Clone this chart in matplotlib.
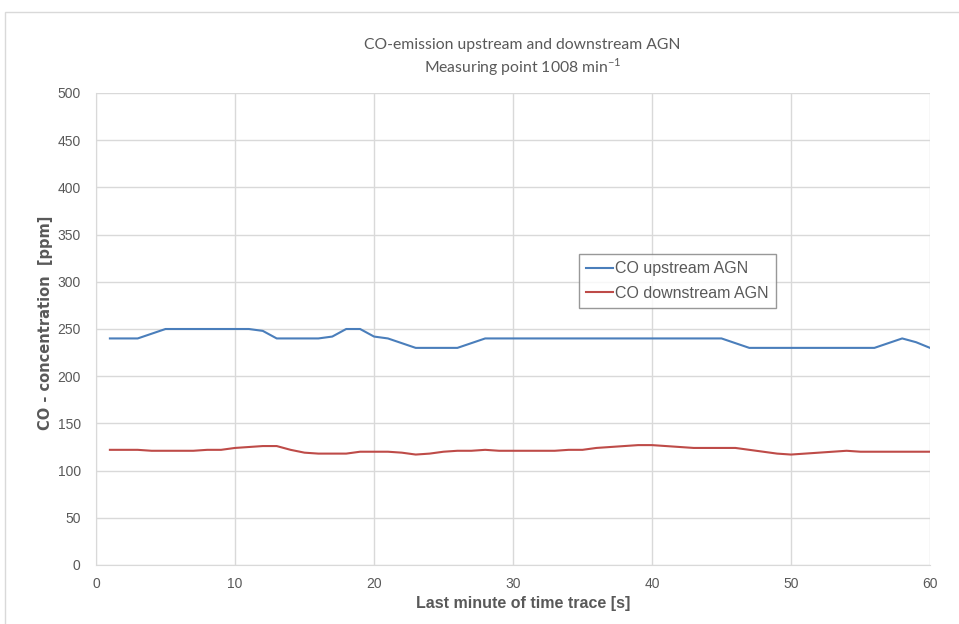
import matplotlib
matplotlib.use("Agg")
import matplotlib.pyplot as plt
from matplotlib.patches import Rectangle

# Time axis: last minute of the trace, one sample per second
seconds = list(range(1, 61))

co_upstream = [240, 240, 240, 245, 250, 250, 250, 250, 250, 250,
               250, 248, 240, 240, 240, 240, 242, 250, 250, 242,
               240, 235, 230, 230, 230, 230, 235, 240, 240, 240,
               240, 240, 240, 240, 240, 240, 240, 240, 240, 240,
               240, 240, 240, 240, 240, 235, 230, 230, 230, 230,
               230, 230, 230, 230, 230, 230, 235, 240, 236, 230]

co_downstream = [122, 122, 122, 121, 121, 121, 121, 122, 122, 124,
                 125, 126, 126, 122, 119, 118, 118, 118, 120, 120,
                 120, 119, 117, 118, 120, 121, 121, 122, 121, 121,
                 121, 121, 121, 122, 122, 124, 125, 126, 127, 127,
                 126, 125, 124, 124, 124, 124, 122, 120, 118, 117,
                 118, 119, 120, 121, 120, 120, 120, 120, 120, 120]

series_labels = ["CO upstream AGN", "CO downstream AGN"]
x_ticks = [0, 10, 20, 30, 40, 50, 60]
y_ticks = list(range(0, 501, 50))

sans = "Liberation Sans"
title_font = "Lato"
grey = "#595959"

fig = plt.figure(figsize=(9.59, 6.24), dpi=100)
fig.patch.set_facecolor("white")

# Chart frame
fig.patches.append(Rectangle((5 / 959, -0.01), 1.0, (624 - 12) / 624 + 0.01,
                             transform=fig.transFigure, fill=False,
                             edgecolor="#d9d9d9", linewidth=1.0))

ax = fig.add_axes([96 / 959, 59 / 624, 834 / 959, 472 / 624])
ax.plot(seconds, co_upstream, color="#4a7ebb", linewidth=1.5, label=series_labels[0])
ax.plot(seconds, co_downstream, color="#be4b48", linewidth=1.5, label=series_labels[1])

ax.set_xlim(0, 60)
ax.set_ylim(0, 500)
ax.set_xticks(x_ticks)
ax.set_yticks(y_ticks)
ax.grid(True, color="#d9d9d9", linewidth=1.0)
ax.set_axisbelow(True)
for side in ["top", "right"]:
    ax.spines[side].set_visible(False)
for side in ["left", "bottom"]:
    ax.spines[side].set_color("#d9d9d9")
ax.tick_params(axis="y", length=0, colors=grey, pad=11)
ax.tick_params(axis="x", length=0, colors=grey, pad=9)
for lbl in ax.get_yticklabels() + ax.get_xticklabels():
    lbl.set_fontfamily(sans)
    lbl.set_fontsize(10)

ax.set_ylabel("CO - concentration  [ppm]", family="DejaVu Sans", fontsize=10.5,
              fontweight="bold", color=grey)
ax.yaxis.set_label_coords((53 - 96) / 834, (565 - 323) / 472)
ax.set_xlabel("Last minute of time trace [s]", family=sans, fontsize=11.5,
              fontweight="bold", color=grey)
ax.xaxis.set_label_coords((523 - 96) / 834, (565 - 596) / 472)

fig.text(0.545, 1 - 45 / 624, "CO-emission upstream and downstream AGN",
         ha="center", va="center", family=title_font, fontsize=11.3, color=grey)
fig.text(0.545, 1 - 67 / 624, r"Measuring point 1008 min$^{\mathregular{-1}}$",
         ha="center", va="center", family=title_font, fontsize=11.3, color=grey)

leg = ax.legend(loc="upper left", bbox_to_anchor=((579 - 96) / 834, (565 - 254) / 472),
                frameon=True, fancybox=False, edgecolor="#7f7f7f",
                prop={"family": sans, "size": 11.5},
                handlelength=1.7, handletextpad=0.1, borderpad=0.45, labelspacing=0.6,
                borderaxespad=0.0)
leg.get_frame().set_linewidth(1.0)
for t in leg.get_texts():
    t.set_color(grey)

fig.savefig("out.png", dpi=100, facecolor="white")
